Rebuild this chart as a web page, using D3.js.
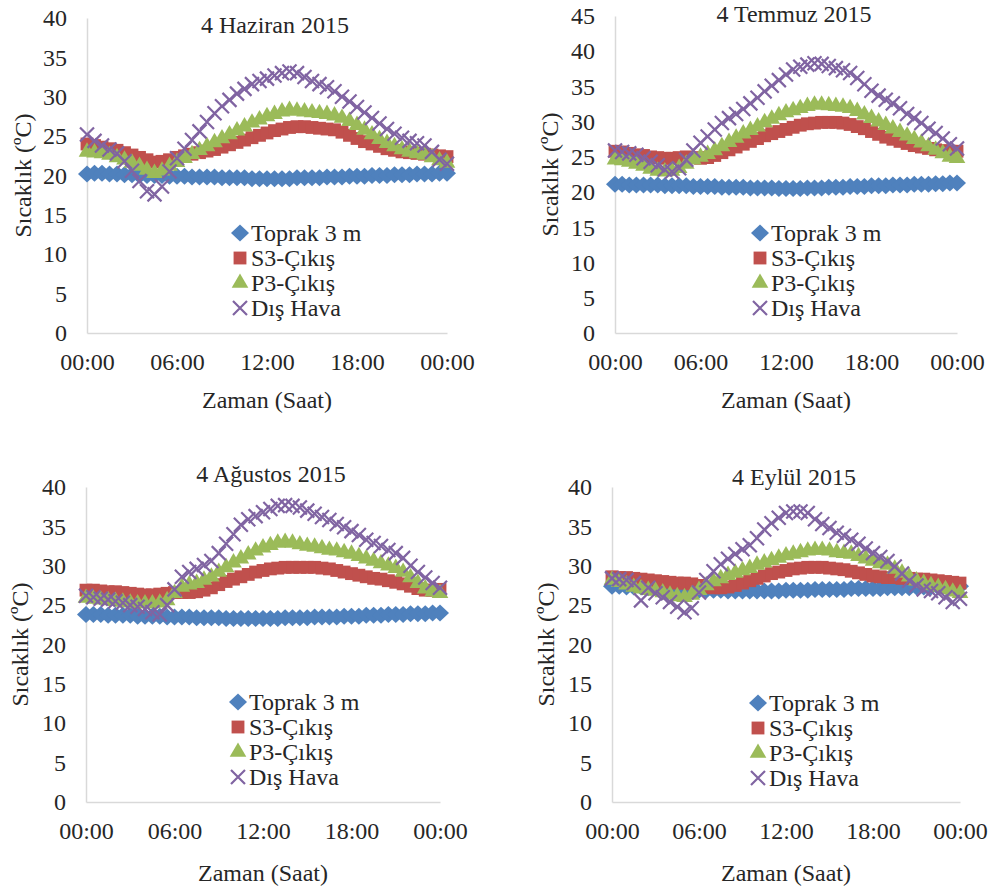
<!DOCTYPE html>
<html>
<head>
<meta charset="utf-8">
<script src="https://cdn.jsdelivr.net/npm/d3@7"></script>
<style>
  body { margin: 0; background: #fff; }
</style>
</head>
<body>
<script>
// half-hour readings, 00:00 .. 24:00
const hours = d3.range(0, 24.01, 0.5);
const timeTicks = [0, 6, 12, 18, 24];
const timeLabels = ["00:00", "06:00", "12:00", "18:00", "00:00"];
const seriesNames = ["Toprak 3 m", "S3-Çıkış", "P3-Çıkış", "Dış Hava"];
const titles = ["4 Haziran 2015", "4 Temmuz 2015", "4 Ağustos 2015", "4 Eylül 2015"];
const yMaxes = [40, 45, 40, 40];

// 4 Haziran
const toprakHaz = [20.2,20.3,20.3,20.2,20.2,20.1,20.1,20.0,20.0,20.0,
  20.0,19.9,19.9,19.9,19.8,19.8,19.8,19.8,19.7,19.7,
  19.7,19.7,19.6,19.6,19.6,19.6,19.6,19.6,19.7,19.7,
  19.7,19.7,19.8,19.8,19.8,19.9,19.9,19.9,20.0,20.0,
  20.0,20.1,20.1,20.1,20.2,20.2,20.2,20.3,20.3];
const s3Haz = [24.0,23.8,23.6,23.4,23.2,22.9,22.6,22.3,22.0,21.7,
  21.8,22.0,22.3,22.5,22.7,22.9,23.1,23.3,23.6,23.9,
  24.2,24.5,24.8,25.1,25.4,25.7,25.9,26.1,26.2,26.2,
  26.1,26.0,25.9,25.8,25.5,25.1,24.7,24.3,24.0,23.7,
  23.4,23.2,23.0,22.9,22.8,22.7,22.6,22.5,22.4];
const p3Haz = [23.0,22.9,22.8,22.6,22.3,22.0,21.6,21.2,20.7,20.3,
  20.6,21.2,21.7,22.2,22.7,23.2,23.7,24.2,24.7,25.2,
  25.7,26.2,26.7,27.1,27.5,27.8,28.1,28.3,28.2,28.1,
  28.0,27.9,27.8,27.6,27.3,26.9,26.4,25.8,25.2,24.6,
  24.1,23.7,23.3,23.0,22.8,22.6,22.3,21.9,21.6];
const disHaz = [25.2,24.4,23.8,23.3,22.8,21.8,20.6,19.3,18.0,17.6,
  18.6,20.5,22.2,23.4,24.5,25.6,26.8,27.9,28.8,29.6,
  30.4,31.0,31.6,32.0,32.3,32.7,33.0,33.2,33.0,32.5,
  32.0,31.6,31.2,30.7,30.0,29.4,28.7,28.0,27.3,26.6,
  25.9,25.3,24.8,24.4,24.1,23.8,23.0,22.0,21.5];

// 4 Temmuz
const toprakTem = [21.1,21.1,21.0,21.0,21.0,21.0,21.0,20.9,20.9,20.9,
  20.9,20.8,20.8,20.8,20.8,20.7,20.7,20.7,20.7,20.6,
  20.6,20.6,20.6,20.5,20.5,20.5,20.5,20.6,20.6,20.6,
  20.7,20.7,20.7,20.8,20.8,20.8,20.9,20.9,20.9,21.0,
  21.0,21.0,21.1,21.1,21.1,21.2,21.2,21.3,21.3];
const s3Tem = [25.8,25.7,25.5,25.3,25.2,25.0,24.9,24.8,24.8,24.9,
  25.0,24.9,24.8,24.9,25.2,25.6,26.0,26.4,26.8,27.2,
  27.6,28.0,28.3,28.6,28.9,29.2,29.5,29.7,29.8,29.9,
  29.9,29.9,29.8,29.6,29.3,29.0,28.6,28.2,27.8,27.5,
  27.2,26.9,26.6,26.4,26.2,26.0,25.9,25.8,25.8];
const p3Tem = [24.6,24.5,24.3,24.0,23.7,23.3,23.0,22.9,23.0,23.4,
  24.0,24.6,25.0,25.4,25.9,26.5,27.1,27.7,28.3,28.8,
  29.3,29.9,30.4,30.9,31.3,31.6,31.9,32.2,32.4,32.4,
  32.3,32.2,32.1,31.9,31.5,31.0,30.5,30.0,29.5,29.0,
  28.5,28.0,27.5,27.0,26.5,26.0,25.5,25.0,24.8];
const disTem = [25.9,25.7,25.5,25.3,24.8,24.3,23.8,23.2,22.9,23.4,
  24.6,25.9,27.0,27.9,28.9,29.8,30.5,31.1,31.8,32.6,
  33.4,34.3,35.1,35.9,36.7,37.4,37.8,38.1,38.3,38.2,
  37.9,37.6,37.3,36.9,36.2,35.3,34.4,33.7,33.1,32.6,
  31.9,31.1,30.5,29.8,29.0,28.4,27.6,26.8,26.2];

// 4 Ağustos
const toprakAgu = [23.8,23.8,23.8,23.7,23.7,23.7,23.7,23.6,23.6,23.6,
  23.6,23.5,23.5,23.5,23.5,23.4,23.4,23.4,23.4,23.3,
  23.3,23.3,23.3,23.3,23.3,23.3,23.3,23.4,23.4,23.4,
  23.4,23.5,23.5,23.5,23.5,23.6,23.6,23.6,23.7,23.7,
  23.7,23.8,23.8,23.8,23.9,23.9,23.9,24.0,24.0];
const s3Agu = [26.9,26.9,26.8,26.7,26.7,26.6,26.5,26.4,26.3,26.3,
  26.4,26.5,26.6,26.6,26.6,26.7,26.9,27.2,27.6,28.0,
  28.3,28.6,28.9,29.2,29.4,29.6,29.7,29.8,29.8,29.8,
  29.8,29.8,29.7,29.6,29.4,29.2,29.0,28.8,28.6,28.4,
  28.3,28.1,27.9,27.7,27.4,27.1,26.9,26.9,27.0];
const p3Agu = [25.9,25.8,25.7,25.6,25.5,25.4,25.3,25.2,25.2,25.2,
  25.3,25.6,26.5,27.3,27.6,27.8,28.2,28.6,29.2,29.8,
  30.4,30.9,31.4,31.9,32.3,32.6,32.9,33.0,32.9,32.7,
  32.5,32.4,32.2,32.0,31.9,31.7,31.5,31.2,30.9,30.6,
  30.3,30.0,29.7,29.2,28.5,27.8,27.1,26.7,26.5];
const disAgu = [26.2,26.0,25.8,25.7,25.5,25.3,25.0,24.8,24.5,24.1,
  23.8,25.0,27.0,28.6,29.2,29.6,30.1,30.6,31.6,32.8,
  34.0,35.2,35.9,36.3,36.8,37.2,37.6,37.7,37.6,37.4,
  37.0,36.6,36.2,35.8,35.3,34.9,34.4,33.9,33.3,32.9,
  32.5,32.0,31.6,31.0,30.0,29.2,28.5,27.8,27.2];

// 4 Eylül
const toprakEyl = [27.4,27.4,27.3,27.3,27.3,27.2,27.2,27.1,27.1,27.1,
  27.0,27.0,26.9,26.9,26.9,26.9,26.8,26.8,26.8,26.8,
  26.8,26.8,26.8,26.8,26.9,26.9,26.9,26.9,27.0,27.0,
  27.0,27.0,27.0,27.1,27.1,27.1,27.1,27.1,27.2,27.2,
  27.2,27.2,27.3,27.3,27.3,27.3,27.4,27.4,27.4];
const s3Eyl = [28.6,28.5,28.5,28.4,28.3,28.2,28.1,28.0,27.9,27.8,
  27.8,27.7,27.5,27.3,27.2,27.2,27.3,27.5,27.8,28.1,
  28.4,28.7,29.0,29.2,29.4,29.6,29.7,29.8,29.8,29.8,
  29.7,29.6,29.5,29.3,29.1,28.9,28.7,28.6,28.5,28.5,
  28.4,28.4,28.3,28.3,28.2,28.1,28.0,27.9,27.8];
const p3Eyl = [28.2,27.9,27.6,27.3,27.1,26.9,26.8,26.6,26.3,26.1,
  26.0,26.3,26.9,27.5,28.0,28.4,28.8,29.1,29.4,29.7,
  30.1,30.4,30.7,31.0,31.3,31.5,31.7,31.9,32.0,32.0,
  31.9,31.7,31.6,31.5,31.2,30.9,30.6,30.3,30.1,29.6,
  29.1,28.6,28.1,27.8,27.5,27.3,27.0,26.7,26.5];
const disEyl = [28.4,28.3,28.2,27.8,25.6,27.2,26.5,26.0,25.4,24.8,
  24.1,24.6,26.6,28.2,29.3,30.2,30.9,31.5,32.1,32.6,
  33.5,34.6,35.4,36.1,36.7,36.9,36.9,36.7,35.9,35.3,
  34.8,34.2,33.8,33.3,32.8,32.2,31.6,31.1,30.6,29.9,
  29.0,28.1,27.5,27.0,26.8,26.5,26.0,25.4,25.8];

const panelData = [
  [toprakHaz, s3Haz, p3Haz, disHaz],
  [toprakTem, s3Tem, p3Tem, disTem],
  [toprakAgu, s3Agu, p3Agu, disAgu],
  [toprakEyl, s3Eyl, p3Eyl, disEyl]
];

const colors = ["#4F81BD", "#C0504D", "#9BBB59", "#8064A2"];

// panel frames
const layout = [
  { left: 87,  right: 447, top: 18,  bottom: 333, titleY: 25,  yTitleX: 23,  xTitleY: 400, legX: 240, legY: 233 },
  { left: 615, right: 957, top: 16,  bottom: 333, titleY: 14,  yTitleX: 550, xTitleY: 400, legX: 760, legY: 233 },
  { left: 86,  right: 440, top: 487, bottom: 802, titleY: 474, yTitleX: 20,  xTitleY: 873, legX: 238, legY: 702 },
  { left: 612, right: 960, top: 487, bottom: 802, titleY: 477, yTitleX: 546, xTitleY: 873, legX: 758, legY: 703 }
];

const FONT_CSS = "font-family: Tinos, 'Liberation Serif', 'Times New Roman', 'Noto Serif', 'DejaVu Serif', serif; font-size: 24px;";

const svg = d3.select("body").append("svg")
  .attr("width", 994)
  .attr("height", 889);

function markerPath(k) {
  if (k === 0) return "M0,-8.5L9,0L0,8.5L-9,0Z";
  if (k === 1) return d3.symbol(d3.symbolSquare, 165)();
  if (k === 2) return d3.symbol(d3.symbolTriangle, 120)();
  return "M-7,-7L7,7M-7,7L7,-7";
}

function styleMarker(sel, k) {
  if (k === 3) {
    sel.attr("fill", "none").attr("stroke", colors[k]).attr("stroke-width", 2.2);
  } else {
    sel.attr("fill", colors[k]);
  }
}

function addText(g) {
  return g.append("text")
    .attr("style", FONT_CSS)
    .attr("fill", "#262626");
}

layout.forEach((p, pi) => {
  const x = d3.scaleLinear().domain([0, 24]).range([p.left, p.right]);
  const y = d3.scaleLinear().domain([0, yMaxes[pi]]).range([p.bottom, p.top]);
  const g = svg.append("g");

  // y axis
  const ya = g.append("g")
    .attr("transform", `translate(${p.left},0)`)
    .call(d3.axisLeft(y).tickValues(d3.range(0, yMaxes[pi] + 1, 5)).tickSize(0).tickPadding(20));
  // x axis
  const xa = g.append("g")
    .attr("transform", `translate(0,${p.bottom})`)
    .call(d3.axisBottom(x).tickValues(timeTicks).tickFormat((d, i) => timeLabels[i]).tickSize(0).tickPadding(20));
  [ya, xa].forEach(a => {
    a.attr("font-family", null).attr("font-size", null);
    a.select(".domain").attr("stroke", "#d9d9d9").attr("stroke-width", 1.5);
    a.selectAll("text").attr("style", FONT_CSS).attr("fill", "#262626");
  });

  // title and axis titles
  addText(g)
    .attr("x", (p.left + p.right) / 2 + 8)
    .attr("y", p.titleY)
    .attr("dy", "0.35em")
    .attr("text-anchor", "middle")
    .text(titles[pi]);

  addText(g)
    .attr("x", (p.left + p.right) / 2)
    .attr("y", p.xTitleY)
    .attr("dy", "0.35em")
    .attr("text-anchor", "middle")
    .text("Zaman (Saat)");

  addText(g)
    .attr("transform", `translate(${p.yTitleX},${(p.top + p.bottom) / 2}) rotate(-90)`)
    .attr("dy", "0.35em")
    .attr("text-anchor", "middle")
    .text("Sıcaklık (ºC)");

  // series markers
  panelData[pi].forEach((vals, k) => {
    const pts = vals.map((v, i) => [hours[i], v]);
    g.append("g").selectAll("path")
      .data(pts)
      .join("path")
      .attr("d", markerPath(k))
      .attr("transform", d => `translate(${x(d[0])},${y(d[1])})`)
      .call(styleMarker, k);
  });

  // legend
  seriesNames.forEach((name, k) => {
    const ly = p.legY + k * 25;
    g.append("path")
      .attr("d", markerPath(k))
      .attr("transform", `translate(${p.legX},${ly})`)
      .call(styleMarker, k);
    addText(g)
      .attr("x", p.legX + 11)
      .attr("y", ly)
      .attr("dy", "0.35em")
      .text(name);
  });
});
</script>
</body>
</html>
